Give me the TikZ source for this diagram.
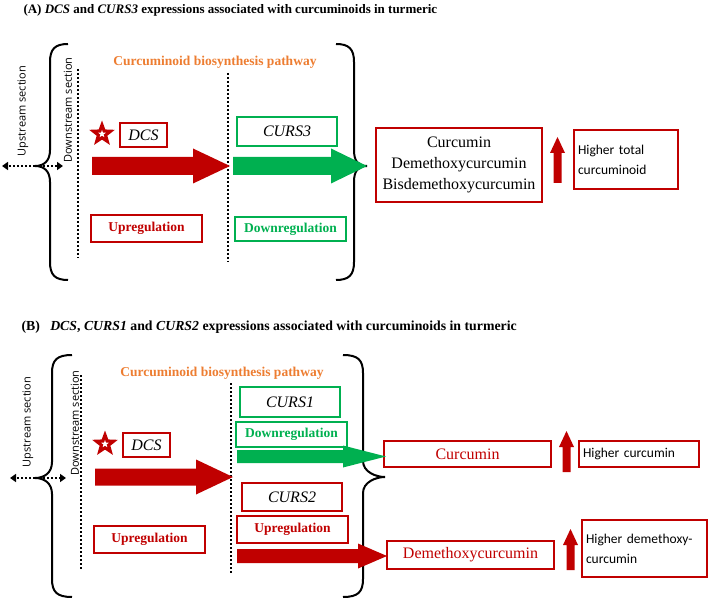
\documentclass[tikz,border=0pt]{standalone}
\usepackage{fontspec}
\setmainfont{Liberation Serif}
\newfontfamily\calib{Carlito}
\newfontfamily\opens{Open Sans}
\usetikzlibrary{shapes.geometric,arrows.meta}
\definecolor{dkred}{HTML}{C00000}
\definecolor{leaf}{HTML}{00B050}
\definecolor{tang}{HTML}{ED7D31}
% fat block arrow: colour, x start, x head, x tip, y, half shaft, half head
\newcommand{\fatarrow}[7]{\fill[#1] (#2,#5-#6) -- (#3,#5-#6) -- (#3,#5-#7) -- (#4,#5) -- (#3,#5+#7) -- (#3,#5+#6) -- (#2,#5+#6) -- cycle;}
% small upward arrow: x, y bottom, y top
\newcommand{\uparr}[3]{\fill[dkred] (#1-4,#2) -- (#1-4,#3+16) -- (#1-7.5,#3+16) -- (#1,#3) -- (#1+7.5,#3+16) -- (#1+4,#3+16) -- (#1+4,#2) -- cycle;}
% curly braces: end x, line x, tip x, y top, y tip, y bottom
\newcommand{\leftcurl}[6]{\draw[line width=2] (#1,#4) .. controls (#2+5,#4) and (#2,#4+5) .. (#2,#4+18) -- (#2,#5-16) .. controls (#2,#5-5) and (#3+9,#5) .. (#3,#5) .. controls (#3+9,#5) and (#2,#5+5) .. (#2,#5+16) -- (#2,#6-18) .. controls (#2,#6-5) and (#2+5,#6) .. (#1,#6);}
\newcommand{\rightcurl}[6]{\draw[line width=2] (#1,#4) .. controls (#2-5,#4) and (#2,#4+5) .. (#2,#4+18) -- (#2,#5-16) .. controls (#2,#5-5) and (#3-9,#5) .. (#3,#5) .. controls (#3-9,#5) and (#2,#5+5) .. (#2,#5+16) -- (#2,#6-18) .. controls (#2,#6-5) and (#2-5,#6) .. (#1,#6);}
\tikzset{
  box/.style={draw=#1, line width=2.4, inner sep=0, align=center},
  gene/.style={font=\itshape\fontsize{16}{18}\selectfont},
  regul/.style={font=\bfseries\fontsize{13.5}{16}\selectfont},
  higher/.style={font=\calib\fontsize{13.5}{20}\selectfont, align=left, text width=#1},
  section/.style={font=\opens\fontsize{11}{13}\selectfont, rotate=90},
  pathway/.style={font=\bfseries\fontsize{13.5}{16}\selectfont, text=tang},
  heading/.style={anchor=west, font=\bfseries\fontsize{#1}{15}\selectfont},
  secline/.style={line width=2.2, dash pattern=on 2 off 2},
  dotarrow/.style={line width=2.2, dash pattern=on 2 off 2, -{Triangle[length=6,width=8]}},
  mark star/.style={star, star points=5, star point ratio=2.4, inner sep=0, fill=#1}
}
\begin{document}
\begin{tikzpicture}[x=1pt, y=-1pt]
  \useasboundingbox (0,0) rectangle (709,601);
  % ------------------------------------------------------------------ (A) DCS and CURS3
  \node[heading=13] (titleA) at (20,10) {(A) \textit{DCS} and \textit{CURS3} expressions associated with curcuminoids in turmeric};
  \leftcurl{68}{50}{35}{44}{166}{280}
  \rightcurl{336}{354}{367}{44}{166}{280}
  \coordinate (tipA) at (35,166);
  \coordinate (upA) at (2,166);
  \coordinate (downA) at (63,166);
  \draw[dotarrow] (tipA) -- (upA);
  \draw[dotarrow] (tipA) -- (downA);
  \node[section] (upsecA) at (23,111) {Upstream section};
  \node[section] (downsecA) at (68,110) {Downstream section};
  \draw[secline] (78,69) -- (78,258);
  \draw[secline] (228,73) -- (228,262);
  \node[pathway] (pathA) at (215,62) {Curcuminoid biosynthesis pathway};
  \node[mark star=dkred, minimum size=27] (starA) at (102,134) {};
  \node[mark star=white, minimum size=8] at (starA) {};
  \node[box=dkred, gene, minimum width=47, minimum height=24] (dcsA) at (143.5,135) {DCS};
  \node[box=leaf, gene, minimum width=100, minimum height=29] (curs3) at (287,131.5) {CURS3};
  \node[box=dkred, regul, text=dkred, minimum width=111, minimum height=27] (upregA) at (146.5,228.5) {Upregulation};
  \node[box=leaf, regul, text=leaf, minimum width=111, minimum height=24] (downregA) at (290.5,229) {Downregulation};
  \fatarrow{dkred}{92}{193}{230}{166}{9}{17.5}
  \fatarrow{leaf}{233}{331}{367}{166}{9}{17.5}
  \node[box=dkred, font=\fontsize{16}{21}\selectfont, minimum width=166, minimum height=74] (allcur) at (459,165) {Curcumin\\Demethoxycurcumin\\Bisdemethoxycurcumin};
  \uparr{557.5}{183}{137}
  \node[box=dkred, minimum width=104, minimum height=59] (totalA) at (626,159.5) {};
  \node[higher=96] at (totalA) {Higher total\\curcuminoid};
  % ------------------------------------------------------------------ (B) DCS, CURS1 and CURS2
  \node[heading=13.8] (titleB) at (18,327) {(B)\hspace{0.5em} \textit{DCS}, \textit{CURS1} and \textit{CURS2} expressions associated with curcuminoids in turmeric};
  \leftcurl{72}{52}{35}{355}{478}{597}
  \rightcurl{343}{363}{385}{355}{477}{597}
  \coordinate (tipB) at (35,478);
  \coordinate (upB) at (10,478);
  \coordinate (downB) at (66,478);
  \draw[dotarrow] (tipB) -- (upB);
  \draw[dotarrow] (tipB) -- (downB);
  \node[section] (upsecB) at (28,422) {Upstream section};
  \node[section] (downsecB) at (75,423) {Downstream section};
  \draw[secline] (81,375) -- (81,570);
  \draw[secline] (231,383) -- (231,573);
  \node[pathway] (pathB) at (222,373) {Curcuminoid biosynthesis pathway};
  \node[mark star=dkred, minimum size=27] (starB) at (105,444) {};
  \node[mark star=white, minimum size=8] at (starB) {};
  \node[box=dkred, gene, minimum width=47, minimum height=24] (dcsB) at (146.5,445) {DCS};
  \node[box=leaf, gene, minimum width=100, minimum height=30] (curs1) at (290,402) {CURS1};
  \node[box=leaf, regul, text=leaf, minimum width=111, minimum height=25] (downregB) at (291.5,434.5) {Downregulation};
  \node[box=dkred, gene, minimum width=100, minimum height=28] (curs2) at (292,497) {CURS2};
  \node[box=dkred, regul, text=dkred, minimum width=111, minimum height=27] (upregB2) at (292.5,529.5) {Upregulation};
  \node[box=dkred, regul, text=dkred, minimum width=111, minimum height=27] (upregB1) at (149.5,539.5) {Upregulation};
  \fatarrow{dkred}{95}{196}{233}{477}{8.5}{17.5}
  \node[box=dkred, font=\fontsize{16}{18}\selectfont, text=dkred, minimum width=167, minimum height=26] (cur) at (467.5,454) {Curcumin};
  \node[box=dkred, font=\fontsize{16}{18}\selectfont, text=dkred, minimum width=167, minimum height=28] (dmc) at (470.5,555) {Demethoxycurcumin};
  \fatarrow{leaf}{237}{343}{386}{456.5}{6.5}{11}
  \fatarrow{dkred}{237}{358}{387}{556}{7}{12.5}
  \uparr{566.5}{472}{431}
  \uparr{570.5}{570}{529}
  \node[box=dkred, minimum width=120, minimum height=26] (curB) at (639,454) {};
  \node[higher=112] at (curB) {Higher curcumin};
  \node[box=dkred, minimum width=125, minimum height=57] (dmcB) at (644.5,548.5) {};
  \node[higher=117] at (dmcB) {Higher demethoxy-\\curcumin};
\end{tikzpicture}
\end{document}
